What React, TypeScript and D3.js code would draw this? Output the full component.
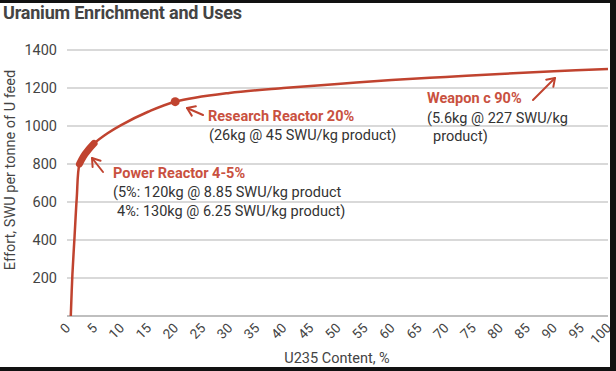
import * as d3 from "d3";

// Enrichment curve (U235 %, SWU per tonne of feed)
const enrichment = [0.7, 1.0, 1.4, 1.8, 2.3, 3, 4, 5, 7.5, 10, 15, 20, 30, 40, 50, 60, 70, 80, 90, 100];
const effort = [0, 220, 420, 620, 800, 838, 876, 908, 962, 1005, 1075, 1128, 1174, 1200, 1221, 1242, 1258, 1274, 1288, 1300];

const powerRange = [2.3, 5];
const researchPoint = [20, 1128];

const yTicks = [200, 400, 600, 800, 1000, 1200, 1400];
const xTicks = d3.range(0, 101, 5);

const W = 616;
const H = 371;
const red = "#c0432f";
const labelRed = "#c9513f";
const grey = "#444";
const font = "Roboto, 'Noto Sans', sans-serif";

const App = () => {
  const x = d3.scaleLinear().domain([0, 100]).range([67, 608]);
  const y = d3.scaleLinear().domain([0, 1400]).range([316, 50]);

  const pts = enrichment.map((e, i) => [e, effort[i]] as [number, number]);
  const line = d3
    .line<[number, number]>()
    .x((d) => x(d[0]))
    .y((d) => y(d[1]))
    .curve(d3.curveCatmullRom.alpha(0.5));

  // thick bit for power reactors, same curve sampled inside the range
  const inRange = pts.filter((d) => d[0] >= powerRange[0] && d[0] <= powerRange[1]);

  const arrow = (x1: number, y1: number, x2: number, y2: number) => {
    const a = Math.atan2(y2 - y1, x2 - x1);
    const l = 9;
    const h1 = [x2 - l * Math.cos(a - 0.6), y2 - l * Math.sin(a - 0.6)];
    const h2 = [x2 - l * Math.cos(a + 0.6), y2 - l * Math.sin(a + 0.6)];
    return (
      <g stroke={red} strokeWidth={2} fill="none" strokeLinecap="round" strokeLinejoin="round">
        <line x1={x1} y1={y1} x2={x2} y2={y2} />
        <polyline points={`${h1[0]},${h1[1]} ${x2},${y2} ${h2[0]},${h2[1]}`} />
      </g>
    );
  };

  return (
    <svg
      width={W}
      height={H}
      style={{ position: "absolute", left: 0, top: 0, background: "#fff" }}
      fontFamily={font}
    >
      <text x={3} y={19} fontSize={18} fontWeight="bold" fill={grey} letterSpacing={-0.2}>
        Uranium Enrichment and Uses
      </text>

      {yTicks.map((t) => (
        <g key={t}>
          <line x1={67} x2={608} y1={y(t)} y2={y(t)} stroke="#ccc" strokeWidth={1.5} />
          <text x={57} y={y(t) + 5} textAnchor="end" fontSize={14.5} fill={grey}>
            {t}
          </text>
        </g>
      ))}
      <line x1={67} x2={608} y1={y(0)} y2={y(0)} stroke="#aaa" strokeWidth={1.5} />

      {xTicks.map((t) => (
        <text
          key={t}
          transform={`translate(${x(t) + 4},${329}) rotate(-45)`}
          textAnchor="end"
          fontSize={13.5}
          fill={grey}
        >
          {t}
        </text>
      ))}

      <text
        transform={`translate(15,170) rotate(-90)`}
        textAnchor="middle"
        fontSize={14.5}
        fill={grey}
      >
        Effort, SWU per tonne of U feed
      </text>
      <text x={337} y={363} textAnchor="middle" fontSize={14.5} fill={grey}>
        U235 Content, %
      </text>

      <path d={line(pts) ?? ""} fill="none" stroke={red} strokeWidth={2.5} />
      <path
        d={line(inRange) ?? ""}
        fill="none"
        stroke={red}
        strokeWidth={7}
        strokeLinecap="round"
      />
      <circle cx={x(researchPoint[0])} cy={y(researchPoint[1])} r={4.5} fill={red} />

      {arrow(103, 172, 92, 158)}
      <text x={113} y={178} fontSize={14.5} fontWeight="bold" fill={labelRed}>
        Power Reactor 4-5%
      </text>
      <text x={113} y={197} fontSize={14.5} fill="#333">
        (5%: 120kg @ 8.85 SWU/kg product
      </text>
      <text x={117} y={216} fontSize={14.5} fill="#333">
        4%: 130kg @ 6.25 SWU/kg product)
      </text>

      {arrow(203, 115, 187, 108)}
      <text x={208} y={121} fontSize={14.5} fontWeight="bold" fill={labelRed}>
        Research Reactor 20%
      </text>
      <text x={209} y={140} fontSize={14.5} fill="#333">
        (26kg @ 45 SWU/kg product)
      </text>

      {arrow(533, 100, 555, 78)}
      <text x={427} y={103} fontSize={14.5} fontWeight="bold" fill={labelRed}>
        Weapon c 90%
      </text>
      <text x={427} y={123} fontSize={14.5} fill="#333">
        (5.6kg @ 227 SWU/kg
      </text>
      <text x={433} y={141} fontSize={14.5} fill="#333">
        product)
      </text>

      {/* black frame edges from the screenshot */}
      <rect x={0} y={0} width={W} height={3} fill="#111" />
      <rect x={610} y={0} width={6} height={H} fill="#111" />
      <rect x={0} y={367} width={W} height={4} fill="#111" />
    </svg>
  );
};

export default App;
